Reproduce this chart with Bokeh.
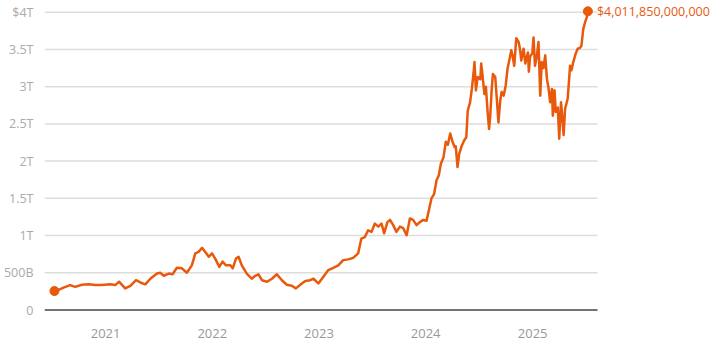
import pandas as pd
from bokeh.plotting import figure
from bokeh.models import Range1d, FixedTicker, DatetimeTickFormatter, Label, ColumnDataSource
from bokeh.embed import file_html
from bokeh.resources import INLINE

# Market value (trillions of US dollars)
dates = [
    "2020-07-10", "2020-07-24", "2020-08-10", "2020-09-02", "2020-09-19", "2020-10-12",
    "2020-11-04", "2020-11-27", "2020-12-18", "2021-01-17", "2021-02-03", "2021-02-16",
    "2021-03-09", "2021-03-27", "2021-04-15", "2021-04-30", "2021-05-17", "2021-06-03",
    "2021-06-26", "2021-07-07", "2021-07-19", "2021-08-05", "2021-08-18", "2021-09-02",
    "2021-09-19", "2021-10-06", "2021-10-23", "2021-11-04", "2021-11-15", "2021-11-27",
    "2021-12-08", "2021-12-20", "2021-12-31", "2022-01-11", "2022-01-25", "2022-02-05",
    "2022-02-17", "2022-03-04", "2022-03-12", "2022-03-23", "2022-04-01", "2022-04-12",
    "2022-04-29", "2022-05-16", "2022-05-28", "2022-06-08", "2022-06-20", "2022-07-07",
    "2022-07-24", "2022-08-10", "2022-08-27", "2022-09-13", "2022-09-30", "2022-10-14",
    "2022-10-29", "2022-11-15", "2022-12-02", "2022-12-13", "2022-12-30", "2023-01-16",
    "2023-02-02", "2023-02-19", "2023-03-08", "2023-03-25", "2023-04-11", "2023-04-28",
    "2023-05-15", "2023-05-26", "2023-06-07", "2023-06-18", "2023-06-30", "2023-07-11",
    "2023-07-23", "2023-08-03", "2023-08-12", "2023-08-23", "2023-09-01", "2023-09-12",
    "2023-09-23", "2023-10-05", "2023-10-16", "2023-10-28", "2023-11-08", "2023-11-19",
    "2023-12-01", "2023-12-12", "2023-12-24", "2024-01-04", "2024-01-12", "2024-01-21",
    "2024-01-30", "2024-02-07", "2024-02-15", "2024-02-22", "2024-03-02", "2024-03-10",
    "2024-03-17", "2024-03-25", "2024-04-02", "2024-04-09", "2024-04-13", "2024-04-19",
    "2024-04-25", "2024-05-04", "2024-05-12", "2024-05-19", "2024-05-24", "2024-06-01",
    "2024-06-07", "2024-06-13", "2024-06-16", "2024-06-21", "2024-06-27", "2024-07-06",
    "2024-07-09", "2024-07-13", "2024-07-20", "2024-07-25", "2024-07-31", "2024-08-05",
    "2024-08-09", "2024-08-14", "2024-08-18", "2024-08-26", "2024-08-31", "2024-09-06",
    "2024-09-12", "2024-09-17", "2024-09-24", "2024-10-01", "2024-10-07", "2024-10-13",
    "2024-10-20", "2024-10-24", "2024-10-30", "2024-11-06", "2024-11-14", "2024-11-19",
    "2024-11-23", "2024-12-01", "2024-12-07", "2024-12-16", "2024-12-19", "2024-12-23",
    "2024-12-31", "2025-01-04", "2025-01-09", "2025-01-15", "2025-01-21", "2025-01-27",
    "2025-02-01", "2025-02-07", "2025-02-13", "2025-02-19", "2025-02-24", "2025-03-02",
    "2025-03-08", "2025-03-11", "2025-03-17", "2025-03-21", "2025-03-28", "2025-04-02",
    "2025-04-08", "2025-04-11", "2025-04-17", "2025-04-22", "2025-05-01", "2025-05-09",
    "2025-05-14", "2025-05-20", "2025-05-28", "2025-06-04", "2025-06-12", "2025-06-17",
    "2025-06-23", "2025-06-29", "2025-07-05", "2025-07-09",
]
market_cap_trillions = [
    0.255, 0.27, 0.30, 0.335, 0.31, 0.34,
    0.345, 0.335, 0.335, 0.345, 0.335, 0.38,
    0.29, 0.325, 0.40, 0.37, 0.345, 0.42,
    0.49, 0.50, 0.46, 0.49, 0.48, 0.567,
    0.56, 0.50, 0.60, 0.76, 0.78, 0.835,
    0.78, 0.715, 0.76, 0.69, 0.58, 0.65,
    0.60, 0.60, 0.56, 0.69, 0.715, 0.60,
    0.49, 0.42, 0.46, 0.48, 0.40, 0.38,
    0.42, 0.48, 0.40, 0.34, 0.325, 0.29,
    0.34, 0.39, 0.40, 0.42, 0.357, 0.446,
    0.536, 0.567, 0.60, 0.67, 0.68, 0.70,
    0.76, 0.96, 0.98, 1.07, 1.05, 1.16,
    1.12, 1.16, 1.03, 1.18, 1.21, 1.14,
    1.05, 1.12, 1.10, 1.005, 1.23, 1.21,
    1.14, 1.18, 1.21, 1.20, 1.34, 1.50,
    1.56, 1.74, 1.81, 1.965, 2.05, 2.26,
    2.22, 2.37, 2.26, 2.19, 2.20, 1.92,
    2.10, 2.21, 2.28, 2.32, 2.68, 2.79,
    2.97, 3.19, 3.33, 2.95, 3.13, 3.10,
    3.31, 3.17, 2.90, 3.00, 2.66, 2.43,
    2.61, 2.97, 3.17, 3.13, 2.86, 2.52,
    2.81, 2.93, 2.88, 3.02, 3.24, 3.35,
    3.49, 3.42, 3.28, 3.65, 3.60, 3.50,
    3.35, 3.51, 3.31, 3.46, 3.20, 3.40,
    3.45, 3.66, 3.28, 3.40, 3.60, 2.88,
    3.33, 3.25, 3.42, 3.10, 2.99, 2.79,
    2.97, 2.61, 2.95, 2.66, 2.72, 2.30,
    2.79, 2.66, 2.35, 2.70, 2.84, 3.28,
    3.22, 3.33, 3.44, 3.51, 3.52, 3.55,
    3.77, 3.86, 3.93, 4.01185,
]
y_ticks = [0, 0.5, 1, 1.5, 2, 2.5, 3, 3.5, 4]
y_tick_labels = ["0", "500B", "1T", "1.5T", "2T", "2.5T", "3T", "3.5T", "$4T"]
year_ticks = ["2021-01-01", "2022-01-01", "2023-01-01", "2024-01-01", "2025-01-01"]
end_label = "$4,011,850,000,000"

ORANGE = "#e8590c"
FONT = "Open Sans"

# plotting area extent (the gridlines stop here; the frame continues to the right
# so that the end-value label has room)
AREA_START = pd.Timestamp("2020-06-06")
AREA_END = pd.Timestamp("2025-08-11")
FRAME_END = pd.Timestamp("2026-09-22")

x = pd.to_datetime(dates)
src = ColumnDataSource(dict(x=x, y=market_cap_trillions))

p = figure(
    frame_width=672, frame_height=306, output_backend="svg", toolbar_location=None,
    x_axis_type="datetime",
    x_range=Range1d(AREA_START, FRAME_END),
    y_range=Range1d(-0.02, 4.09),
    min_border_left=38, min_border_right=0, min_border_top=5, min_border_bottom=29,
)
p.outline_line_color = None
p.background_fill_color = "white"
p.border_fill_color = "white"

# horizontal gridlines and baseline
grid_ticks = y_ticks[1:]
p.segment(x0=[AREA_START] * len(grid_ticks), y0=grid_ticks,
          x1=[AREA_END] * len(grid_ticks), y1=grid_ticks,
          line_color="#dddddd", line_width=1.5)
p.segment(x0=[AREA_START], y0=[0], x1=[AREA_END], y1=[0],
          line_color="#444444", line_width=1.5)

p.line("x", "y", source=src, line_color=ORANGE, line_width=2.5, line_join="round")
p.scatter([x[0], x[-1]], [market_cap_trillions[0], market_cap_trillions[-1]],
          size=9, color=ORANGE)

p.add_layout(Label(x=x[-1], y=market_cap_trillions[-1], text=end_label,
                   x_offset=9, text_baseline="middle", text_align="left",
                   text_color=ORANGE, text_font=FONT, text_font_size="12.5px"))

# y axis
p.yaxis.ticker = FixedTicker(ticks=y_ticks)
p.yaxis.major_label_overrides = {t: l for t, l in zip(y_ticks, y_tick_labels)}
p.yaxis.axis_line_color = None
p.yaxis.major_tick_line_color = None
p.yaxis.minor_tick_line_color = None
p.yaxis.major_label_standoff = 5
p.yaxis.major_label_text_color = "#aaaaaa"
p.yaxis.major_label_text_font = FONT
p.yaxis.major_label_text_font_size = "12.5px"

# x axis
p.xaxis.ticker = FixedTicker(ticks=[pd.Timestamp(d).value / 1e6 for d in year_ticks])
p.xaxis.formatter = DatetimeTickFormatter(years="%Y", months="%Y", days="%Y", hours="%Y",
                                          minutes="%Y", seconds="%Y", milliseconds="%Y",
                                          microseconds="%Y", hourmin="%Y", minsec="%Y")
p.xaxis.axis_line_color = None
p.xaxis.major_tick_line_color = None
p.xaxis.minor_tick_line_color = None
p.xaxis.major_label_standoff = 11
p.xaxis.major_label_text_color = "#999999"
p.xaxis.major_label_text_font = FONT
p.xaxis.major_label_text_font_size = "13px"

p.xgrid.grid_line_color = None
p.ygrid.grid_line_color = None

open("out.html", "w").write(file_html(p, INLINE))
